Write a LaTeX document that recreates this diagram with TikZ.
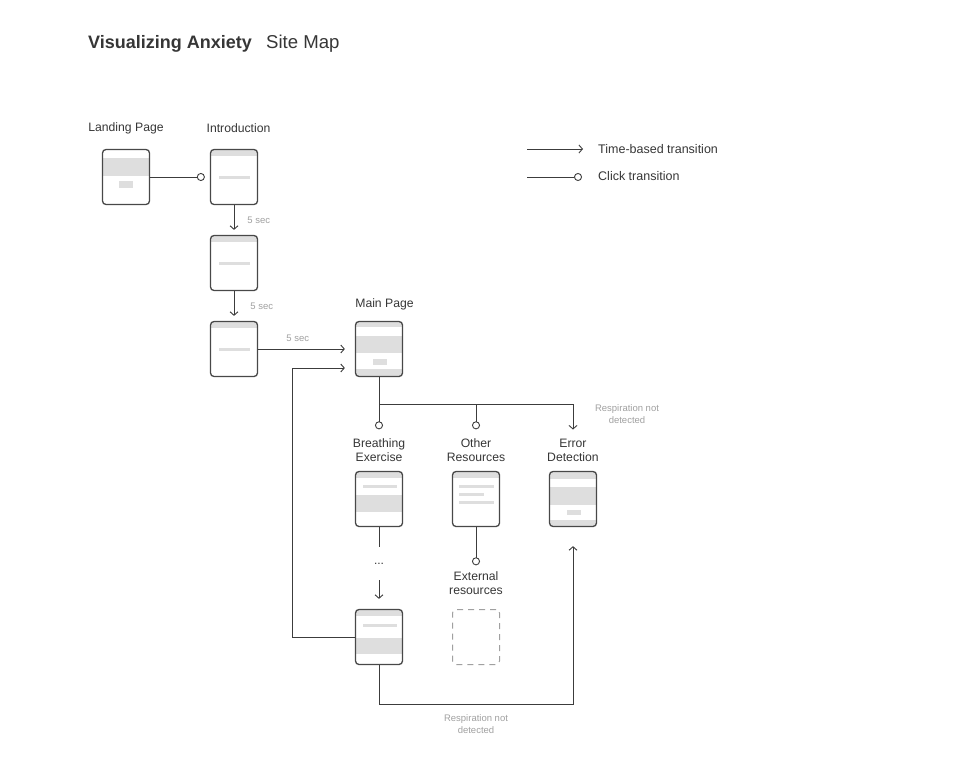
\documentclass[tikz,border=0pt]{standalone}
\usepackage{fontspec}
\setmainfont{Liberation Sans}
\usetikzlibrary{arrows.meta, positioning, calc}

\definecolor{inkgray}{HTML}{3C3C3C}
\definecolor{framegray}{HTML}{484848}
\definecolor{uigray}{HTML}{DEDEDE}
\definecolor{notegray}{HTML}{A0A0A0}
\definecolor{labelgray}{HTML}{363636}

% grey block inside a screen, corners measured from its top left
\newcommand{\uiblock}[4]{\fill[uigray, sharp corners] ([shift={(#1,#2)}]path picture bounding box.north west) rectangle ([shift={(#3,#4)}]path picture bounding box.north west);}

\tikzset{
    screen/.style={draw=framegray, line width=1.3pt, rounded corners=3.5pt, fill=white, minimum width=47pt, minimum height=55pt, inner sep=0pt},
    landingscreen/.style={screen, path picture={\uiblock{0}{8.5}{47}{26.5}\uiblock{16.5}{31.5}{30.5}{38}}},
    introscreen/.style={screen, path picture={\uiblock{0}{0}{47}{6.5}\uiblock{8}{26}{39}{29}}},
    mainscreen/.style={screen, path picture={\uiblock{0}{0}{47}{5.5}\uiblock{0}{14.5}{47}{31}\uiblock{17}{37.5}{31}{43.5}\uiblock{0}{47.5}{47}{56}}},
    breathscreen/.style={screen, path picture={\uiblock{0}{0}{47}{6}\uiblock{7.5}{13.5}{41}{16.5}\uiblock{0}{23}{47}{40}}},
    breathendscreen/.style={screen, path picture={\uiblock{0}{0}{47}{6}\uiblock{7.5}{14}{41}{17}\uiblock{0}{28.5}{47}{44.5}}},
    otherscreen/.style={screen, path picture={\uiblock{0}{0}{47}{6}\uiblock{6.5}{13.5}{41.5}{16.5}\uiblock{6.5}{21}{31.5}{24}\uiblock{6.5}{29.5}{41.5}{32.5}}},
    errorscreen/.style={screen, path picture={\uiblock{0}{0}{47}{7}\uiblock{0}{15}{47}{33}\uiblock{17.5}{38}{31.5}{43.5}\uiblock{0}{48}{47}{56}}},
    emptyscreen/.style={draw=notegray, dash pattern=on 6pt off 5pt, line width=1pt, rounded corners=3.5pt, minimum width=47pt, minimum height=55pt, inner sep=0pt},
    pagelabel/.style={font=\fontsize{12.2}{14}\selectfont, text=labelgray, align=center, inner sep=0pt},
    notelabel/.style={font=\fontsize{9.5}{12}\selectfont, text=notegray, align=center, inner sep=0pt},
    timelink/.style={-{Straight Barb[length=3.5pt,width=8pt]}, draw=inkgray, line width=0.9pt},
    clicklink/.style={-{Circle[open,length=8pt]}, draw=inkgray, line width=0.9pt},
    plainlink/.style={draw=inkgray, line width=0.9pt}
}

\begin{document}
\begin{tikzpicture}[x=1pt, y=-1pt]
    \useasboundingbox (0,0) rectangle (960,765);

    % Title
    \node[anchor=base west, inner sep=0pt, text=labelgray, font=\fontsize{18}{20}\selectfont\bfseries] (title) at (88,48.5) {Visualizing Anxiety};
    \node[anchor=base west, inner sep=0pt, text=labelgray, font=\fontsize{18.6}{20}\selectfont] (subtitle) at (266,48.5) {Site Map};

    % Legend
    \coordinate (timestart) at (527,149);
    \coordinate (clickstart) at (527,177);
    \node[pagelabel, anchor=west, font=\fontsize{12.5}{14}\selectfont] (timetext) at (598,149) {Time-based transition};
    \node[pagelabel, anchor=west, font=\fontsize{12.5}{14}\selectfont] (clicktext) at (598,176) {Click transition};
    \draw[timelink, shorten >=15pt] (timestart) -- (timetext);
    \draw[clicklink, shorten >=16pt] (clickstart) -- (clicktext.west |- clickstart);

    % Screens
    \node[landingscreen] (landing) at (126,177) {};
    \node[introscreen] (intro) at (234,177) {};
    \node[introscreen] (introtwo) at (234,263) {};
    \node[introscreen] (introthree) at (234,349) {};
    \node[mainscreen] (main) at (379,349) {};
    \node[breathscreen] (breathing) at (379,499) {};
    \node[otherscreen] (other) at (476,499) {};
    \node[errorscreen] (error) at (573,499) {};
    \node[breathendscreen] (breathend) at (379,637) {};
    \node[emptyscreen] (external) at (476,637) {};

    % Screen titles
    \node[pagelabel] (landinglabel) at (126,128) {Landing Page};
    \node[pagelabel] (introlabel) at (238.5,128) {Introduction};
    \node[pagelabel] (mainlabel) at (384.5,304) {Main Page};
    \node[pagelabel] (breathlabel) at (379,450) {Breathing\\Exercise};
    \node[pagelabel] (otherlabel) at (476,450) {Other\\Resources};
    \node[pagelabel] (errorlabel) at (573,450) {Error\\Detection};
    \node[pagelabel] (extlabel) at (476,583) {External\\resources};

    % Intro sequence
    \draw[clicklink, shorten >=5pt] (landing) -- (intro);
    \draw[timelink, shorten >=5pt] (intro) -- node[notelabel, midway, right=13pt] {5 sec} (introtwo);
    \draw[timelink, shorten >=5pt] (introtwo) -- node[notelabel, midway, right=16pt] {5 sec} (introthree);
    \draw[timelink, shorten >=10pt] (introthree) -- node[notelabel, pos=0.41, above=7pt] {5 sec} (main);

    % Main page choices
    \coordinate (fork) at (379,404);
    \draw[plainlink] (main) -- (fork);
    \draw[clicklink, shorten >=9pt] (fork) -- (breathlabel);
    \draw[clicklink, shorten >=9pt] (fork) -| (otherlabel);
    \draw[timelink, shorten >=9pt] (fork) -| (errorlabel);
    \node[notelabel] (forknote) at (627,414) {Respiration not\\detected};

    % Breathing exercise
    \node[inner sep=0pt, minimum height=33pt, text height=1pt, text depth=0pt, text=labelgray, font=\fontsize{12}{14}\selectfont] (dots) at (379,563.5) {...};
    \draw[plainlink] (breathing) -- (dots);
    \draw[timelink, shorten >=10pt] (dots) -- (breathend);
    \coordinate (backturn) at (292,368);
    \draw[timelink, shorten >=10pt] (breathend.west) -| (backturn) -- ([yshift=-19pt]main.west);
    \coordinate (lowturn) at (379,704);
    \draw[timelink, shorten >=19pt] (breathend) -- (lowturn) -| (error);
    \node[notelabel] (lownote) at (476,724) {Respiration not\\detected};

    % Other resources
    \draw[clicklink, shorten >=6pt] (other) -- (extlabel);
\end{tikzpicture}
\end{document}
